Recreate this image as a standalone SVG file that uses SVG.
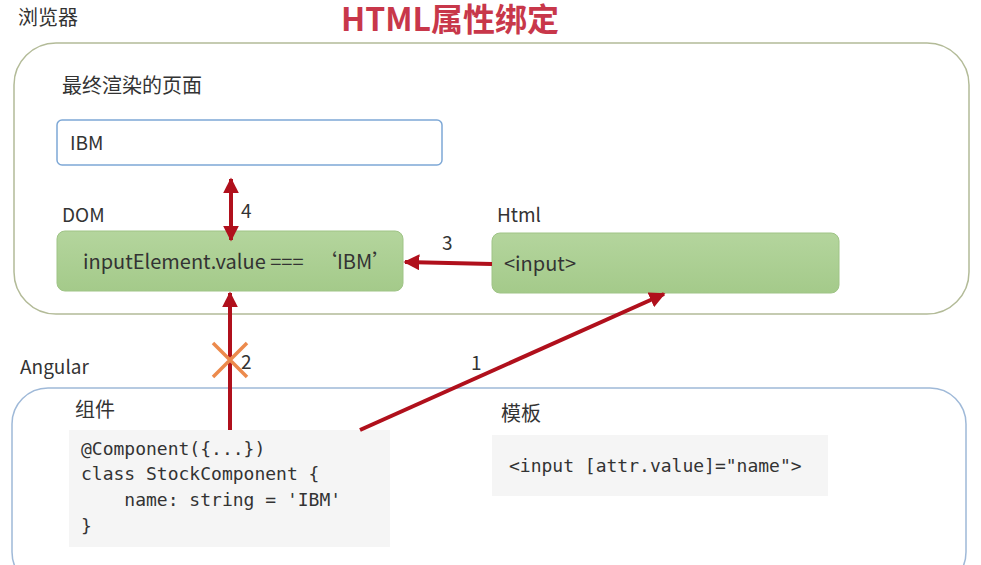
<svg xmlns="http://www.w3.org/2000/svg" width="981" height="565" viewBox="0 0 981 565">
<defs>
<style>
.t{font-family:"Noto Sans CJK SC","Noto Sans",sans-serif;fill:#333;font-size:19px}
.c{font-size:20px}
.m{font-family:"DejaVu Sans Mono","Liberation Mono",monospace;fill:#333;font-size:18px}
.g{fill:url(#gg);stroke:#9fc486;stroke-width:1}
.a{stroke:#b0101c;stroke-width:4;fill:none}
</style>
<linearGradient id="gg" x1="0" y1="0" x2="0" y2="1"><stop offset="0" stop-color="#b4d59d"/><stop offset="1" stop-color="#a4ca8a"/></linearGradient>
<marker id="ah" viewBox="0 0 10 10" refX="9" refY="5" markerWidth="4" markerHeight="4" orient="auto-start-reverse" markerUnits="strokeWidth"><path d="M0,0 L10,5 L0,10 z" fill="#b0101c"/></marker>
</defs>
<rect width="981" height="565" fill="#fff"/>
<text x="450" y="31" text-anchor="middle" font-family="'Noto Sans CJK SC','Noto Sans',sans-serif" font-weight="bold" font-size="32" fill="#c8374a">HTML属性绑定</text>
<g id="browser">
<rect x="14" y="43" width="955" height="271" rx="42" fill="none" stroke="#b3bb98" stroke-width="1.5"/>
<text class="t c" x="18" y="25">浏览器</text>
<text class="t c" x="62" y="93">最终渲染的页面</text>
</g>
<g id="ibm">
<rect x="57" y="120" width="385" height="45" rx="5" fill="#fff" stroke="#7ea8d6" stroke-width="1.5"/>
<text class="t" x="70" y="150">IBM</text>
</g>
<g id="dom">
<text class="t" x="62" y="222">DOM</text>
<rect class="g" x="57" y="231" width="346" height="60" rx="8"/>
<text class="t c" x="83" y="269">inputElement.value ===<tspan x="317">‘IBM’</tspan></text>
</g>
<g id="html">
<text class="t" x="497" y="222">Html</text>
<rect class="g" x="492" y="233" width="347" height="60" rx="8"/>
<text class="t c" x="504" y="271">&lt;input&gt;</text>
</g>
<g id="angular">
<rect x="12" y="388" width="954" height="200" rx="36" fill="none" stroke="#9fb9d8" stroke-width="1.5"/>
<text class="t" x="20" y="374">Angular</text>
</g>
<g id="component">
<text class="t c" x="75" y="417">组件</text>
<rect x="69" y="430" width="321" height="117" fill="#f5f5f5"/>
<text class="m" x="81" y="455">@Component({...})</text>
<text class="m" x="81" y="480">class StockComponent {</text>
<text class="m" x="81" y="506" xml:space="preserve">    name: string = 'IBM'</text>
<text class="m" x="81" y="532">}</text>
</g>
<g id="template">
<text class="t c" x="501" y="421">模板</text>
<rect x="492" y="435" width="336" height="61" fill="#f5f5f5"/>
<text class="m" x="509" y="472">&lt;input [attr.value]="name"&gt;</text>
</g>
<g id="connectors">
<line class="a" x1="231" y1="179" x2="231" y2="240" marker-start="url(#ah)" marker-end="url(#ah)"/>
<text class="t" x="241" y="218">4</text>
<line class="a" x1="492" y1="264" x2="405" y2="262" marker-end="url(#ah)"/>
<text class="t" x="442" y="250">3</text>
<line class="a" x1="230" y1="430" x2="230" y2="293" marker-end="url(#ah)"/>
<path d="M213,343 L247,377 M247,343 L213,377" stroke="#ec8a4c" stroke-width="3.5" fill="none"/>
<text class="t" x="241" y="369">2</text>
<line class="a" x1="360" y1="430" x2="664" y2="294" marker-end="url(#ah)"/>
<text class="t" x="471" y="370">1</text>
</g>
</svg>
